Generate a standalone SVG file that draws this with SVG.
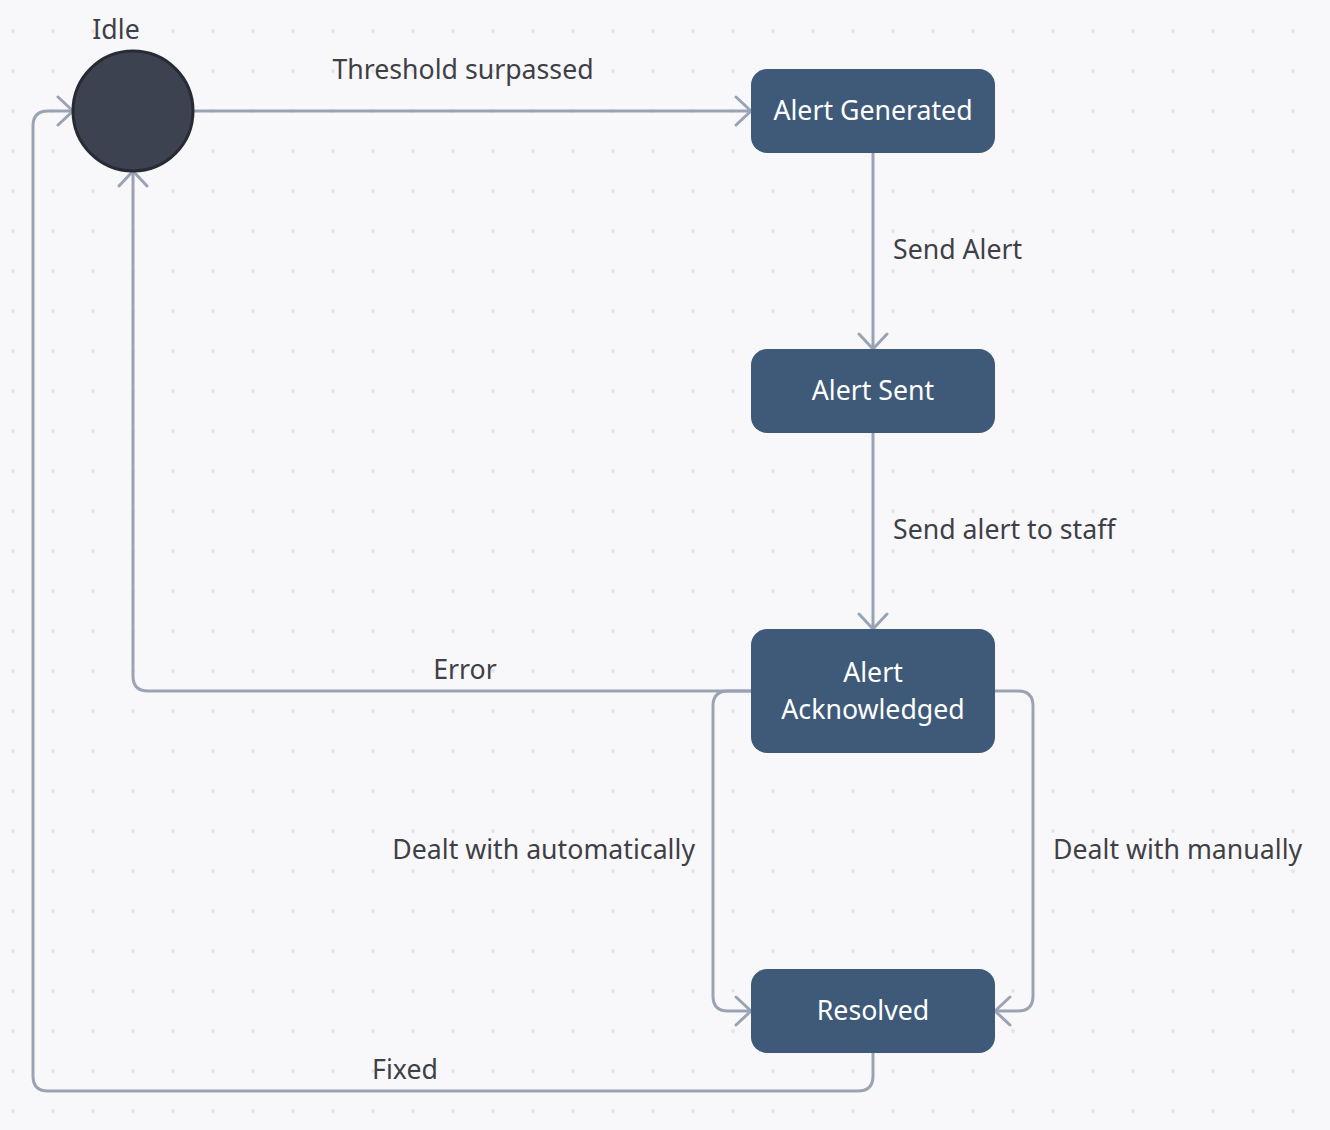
<svg xmlns="http://www.w3.org/2000/svg" width="1330" height="1130" viewBox="0 0 1330 1130">
<style>
.node rect{fill:#3e5a78;}
.ntxt{font-family:"Noto Sans","Open Sans",sans-serif;font-size:26.7px;fill:#ffffff;text-anchor:middle;}
.lbl{font-family:"Noto Sans","Open Sans",sans-serif;font-size:26.7px;fill:#3f3f46;}
.edge{fill:none;stroke:#9aa3b4;stroke-width:3;marker-end:url(#arr);}
</style>
<defs>
<pattern id="dots" x="0" y="0" width="40" height="40" patternUnits="userSpaceOnUse">
<circle cx="13" cy="31" r="2" fill="#e4e4ea"/>
</pattern>
<marker id="arr" markerUnits="userSpaceOnUse" markerWidth="34" markerHeight="34" refX="17" refY="16" orient="auto" viewBox="0 0 34 34">
<path d="M2,2 L17,16 L2,30" fill="none" stroke="#9aa3b4" stroke-width="3" stroke-linecap="round" stroke-linejoin="round"/>
</marker>
</defs>
<rect width="1330" height="1130" fill="#f8f8fb"/>
<rect width="1330" height="1130" fill="url(#dots)"/>
<g id="connectors">
<path class="edge" d="M193,111 H751"/>
<path class="edge" d="M873,153 V349"/>
<path class="edge" d="M873,433 V629"/>
<path class="edge" d="M751,691 H148 Q133,691 133,676 V171"/>
<path class="edge" d="M751,691 H728 Q713,691 713,706 V996 Q713,1011 728,1011 H751"/>
<path class="edge" d="M995,691 H1018 Q1033,691 1033,706 V996 Q1033,1011 1018,1011 H995"/>
<path class="edge" d="M873,1053 V1076 Q873,1091 858,1091 H48 Q33,1091 33,1076 V126 Q33,111 48,111 H73"/>
<text class="lbl" x="463" y="79" text-anchor="middle">Threshold surpassed</text>
<text class="lbl" x="893" y="259">Send Alert</text>
<text class="lbl" x="893" y="539">Send alert to staff</text>
<text class="lbl" x="465" y="679" text-anchor="middle">Error</text>
<text class="lbl" x="695" y="859" text-anchor="end">Dealt with automatically</text>
<text class="lbl" x="1053" y="859">Dealt with manually</text>
<text class="lbl" x="405" y="1079" text-anchor="middle">Fixed</text>
</g>
<g id="idle">
<circle cx="133" cy="111" r="60" fill="#3d4250" stroke="#272b33" stroke-width="3"/>
<text class="lbl" x="116" y="39" text-anchor="middle">Idle</text>
</g>
<g id="alert-generated" class="node">
<rect x="751" y="69" width="244" height="84" rx="16"/>
<text class="ntxt" x="873" y="120">Alert Generated</text>
</g>
<g id="alert-sent" class="node">
<rect x="751" y="349" width="244" height="84" rx="16"/>
<text class="ntxt" x="873" y="400">Alert Sent</text>
</g>
<g id="alert-acknowledged" class="node">
<rect x="751" y="629" width="244" height="124" rx="16"/>
<text class="ntxt" x="873" y="682">Alert</text>
<text class="ntxt" x="873" y="719">Acknowledged</text>
</g>
<g id="resolved" class="node">
<rect x="751" y="969" width="244" height="84" rx="16"/>
<text class="ntxt" x="873" y="1020">Resolved</text>
</g>
</svg>
